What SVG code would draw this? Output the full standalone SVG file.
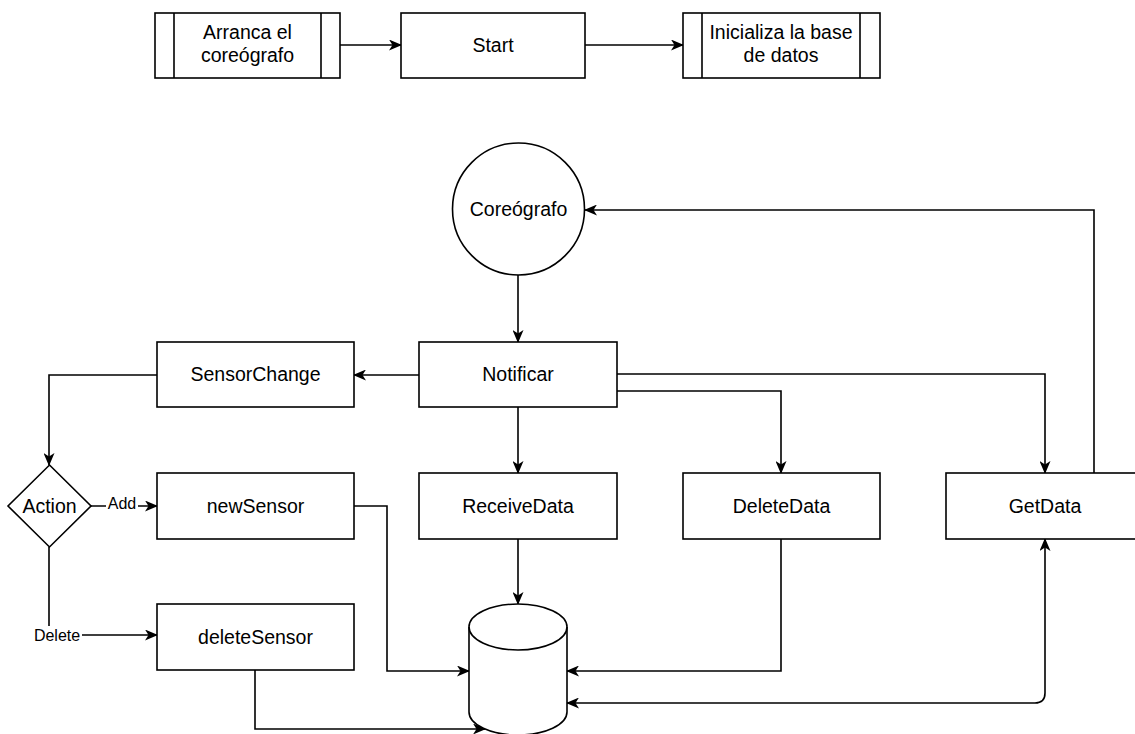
<svg xmlns="http://www.w3.org/2000/svg" width="1135" height="734" viewBox="0 0 1135 734">
  <style>
    .box { fill: #ffffff; stroke: #000000; stroke-width: 1.6; }
    .bar { fill: none; stroke: #000000; stroke-width: 1.6; }
    .lbl { font-family: "Liberation Sans", Arial, sans-serif; font-size: 19.5px; fill: #000000; text-anchor: middle; }
    .elbl { font-family: "Liberation Sans", Arial, sans-serif; font-size: 16px; fill: #000000; text-anchor: middle; }
    .edge { fill: none; stroke: #000000; stroke-width: 1.6; }
  </style>
  <defs>
    <marker id="arrow" markerUnits="userSpaceOnUse" viewBox="0 0 13 11" markerWidth="13" markerHeight="11" refX="12" refY="5.5" orient="auto-start-reverse">
      <path d="M0,0 L13,5.5 L0,11 L3.5,5.5 Z" fill="#000000"/>
    </marker>
  </defs>
  <rect width="1135" height="734" fill="#ffffff"/>

  <!-- connectors -->
  <g id="connectors">
    <path class="edge" d="M340,45 L401,45" marker-end="url(#arrow)"/>
    <path class="edge" d="M585,45 L683,45" marker-end="url(#arrow)"/>
    <path class="edge" d="M518,275 L518,342" marker-end="url(#arrow)"/>
    <path class="edge" d="M419,375 L354,375" marker-end="url(#arrow)"/>
    <path class="edge" d="M157,375 L49,375 L49,465" marker-end="url(#arrow)"/>
    <path class="edge" d="M91,506 L157,506" marker-end="url(#arrow)"/>
    <path class="edge" d="M49,547 L49,635 L157,635" marker-end="url(#arrow)"/>
    <path class="edge" d="M518,407 L518,473" marker-end="url(#arrow)"/>
    <path class="edge" d="M617,391 L781,391 L781,473" marker-end="url(#arrow)"/>
    <path class="edge" d="M617,374 L1045,374 L1045,473" marker-end="url(#arrow)"/>
    <path class="edge" d="M1094,473 L1094,210 L585,210" marker-end="url(#arrow)"/>
    <path class="edge" d="M518,539 L518,604" marker-end="url(#arrow)"/>
    <path class="edge" d="M354,506 L387,506 L387,671 L469,671" marker-end="url(#arrow)"/>
    <path class="edge" d="M255,670 L255,729 L485,729" marker-end="url(#arrow)"/>
    <path class="edge" d="M781,539 L781,671 L567,671" marker-end="url(#arrow)"/>
    <path class="edge" d="M1045,539 L1045,693 Q1045,703 1035,703 L567,703" marker-start="url(#arrow)" marker-end="url(#arrow)"/>
    <!-- edge labels -->
    <rect x="106" y="495" width="32" height="18" fill="#ffffff"/>
    <text class="elbl" x="122" y="509">Add</text>
    <rect x="32" y="626" width="50" height="18" fill="#ffffff"/>
    <text class="elbl" x="57" y="641">Delete</text>
  </g>

  <!-- top row: startup sequence -->
  <g id="arranca">
    <rect class="box" x="155" y="13" width="185" height="65"/>
    <path class="bar" d="M174,13 L174,78 M321,13 L321,78"/>
    <text class="lbl" x="247.5" y="39">Arranca el</text>
    <text class="lbl" x="247.5" y="62">coreógrafo</text>
  </g>
  <g id="start">
    <rect class="box" x="401" y="13" width="184" height="65"/>
    <text class="lbl" x="493" y="52">Start</text>
  </g>
  <g id="inicializa">
    <rect class="box" x="683" y="13" width="197" height="65"/>
    <path class="bar" d="M702,13 L702,78 M860,13 L860,78"/>
    <text class="lbl" x="781" y="39">Inicializa la base</text>
    <text class="lbl" x="781" y="62">de datos</text>
  </g>

  <!-- choreographer -->
  <g id="coreografo">
    <circle class="box" cx="518.5" cy="209" r="66"/>
    <text class="lbl" x="518.5" y="216">Coreógrafo</text>
  </g>

  <g id="notificar">
    <rect class="box" x="419" y="342" width="198" height="65"/>
    <text class="lbl" x="518" y="381">Notificar</text>
  </g>
  <g id="sensorchange">
    <rect class="box" x="157" y="342" width="197" height="65"/>
    <text class="lbl" x="255.5" y="381">SensorChange</text>
  </g>

  <g id="action">
    <path class="box" d="M49.5,465 L91,506 L49.5,547 L8,506 Z"/>
    <text class="lbl" x="49.5" y="513">Action</text>
  </g>

  <g id="newsensor">
    <rect class="box" x="157" y="473" width="197" height="66"/>
    <text class="lbl" x="255.5" y="513">newSensor</text>
  </g>
  <g id="deletesensor">
    <rect class="box" x="157" y="604" width="197" height="66"/>
    <text class="lbl" x="255.5" y="644">deleteSensor</text>
  </g>
  <g id="receivedata">
    <rect class="box" x="419" y="473" width="198" height="66"/>
    <text class="lbl" x="518" y="513">ReceiveData</text>
  </g>
  <g id="deletedata">
    <rect class="box" x="683" y="473" width="197" height="66"/>
    <text class="lbl" x="781.5" y="513">DeleteData</text>
  </g>
  <g id="getdata">
    <rect class="box" x="946" y="473" width="198" height="66"/>
    <text class="lbl" x="1045" y="513">GetData</text>
  </g>

  <!-- database cylinder -->
  <g id="database">
    <path class="box" d="M469,627 A49,23 0 0 1 567,627 L567,712 A49,23 0 0 1 469,712 Z"/>
    <path class="bar" d="M469,627 A49,23 0 0 0 567,627"/>
  </g>
</svg>
